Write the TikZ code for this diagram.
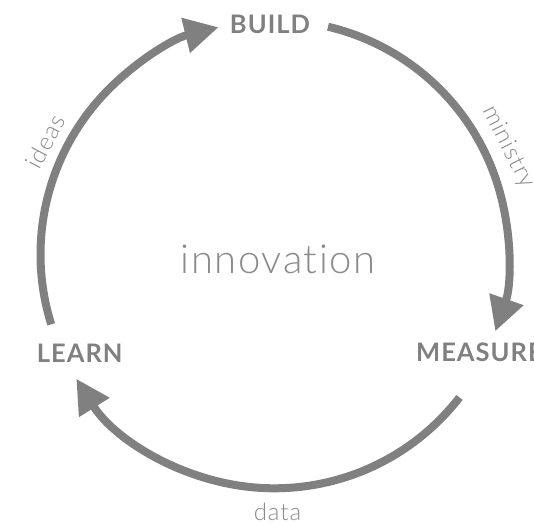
\documentclass[tikz,border=0pt]{standalone}
\usepackage{fontspec}
\setmainfont{Lato}[BoldFeatures={LetterSpace=4}]
\newfontfamily\thinfont{Lato Light}[Ligatures=NoCommon, LetterSpace=4]
\usetikzlibrary{arrows.meta}
\definecolor{cyclegray}{HTML}{808080}
\definecolor{notegray}{HTML}{8A8A8A}

\begin{document}
\begin{tikzpicture}
    [x=1pt, y=1pt, >={Triangle[length=34pt,width=34pt]},
     flow/.style={draw=cyclegray, line width=8pt, ->},
     stage/.style={text=cyclegray, inner sep=0pt, font=\fontsize{25.5}{30}\selectfont\bfseries},
     note/.style={text=notegray, inner sep=0pt, font=\thinfont\fontsize{24}{28}\selectfont}]
    \useasboundingbox (-274.4,-270.6) rectangle (259.6,254.4);
    \clip (-274.4,-270.6) rectangle (259.6,254.4);
    \def\R{233.9}
    % the three stages
    \node[stage] (build) at (-4.4,230.2) {BUILD};
    \node[stage] (learn) at (-194.7,-98.9) {LEARN};
    \node[stage, anchor=west] (measure) at (141.6,-98.1) {MEASURE};
    \node[note, anchor=base, font=\thinfont\fontsize{40}{46}\selectfont] (innovation) at (3.6,-18.9) {innovation};
    % ends of the arcs on the circle
    \coordinate (learn-out) at (197.4:\R pt);
    \coordinate (build-out) at (76.75:\R pt);
    \coordinate (measure-out) at (-37.7:\R pt);
    \draw[flow] (learn-out) arc[start angle=197.4, end angle=103.8, radius=\R pt];
    \draw[flow] (build-out) arc[start angle=76.75, end angle=-19.2, radius=\R pt];
    \draw[flow] (measure-out) arc[start angle=-37.7, end angle=-147.9, radius=\R pt];
    % arc labels
    \node[note, rotate=62] (ideas) at (153.8:255pt) {ideas};
    \node[note, rotate=-63] (ministry) at (24.7:257.5pt) {ministry};
    \node[note, anchor=base] (data) at (3.1,-266.3) {data};
\end{tikzpicture}
\end{document}
